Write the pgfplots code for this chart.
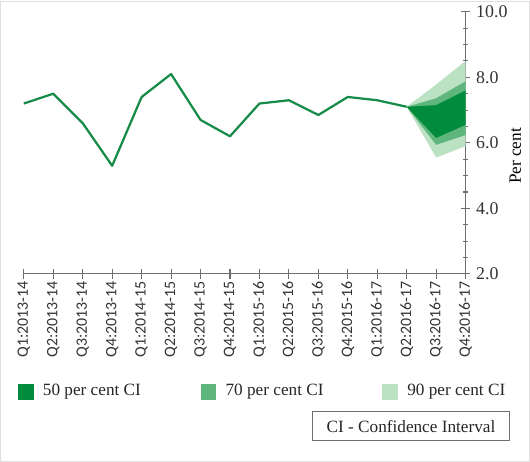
\documentclass[border=0pt]{standalone}
\usepackage{fontspec}
\setmainfont{Liberation Serif}
\newfontfamily\carlito{Carlito}
\usepackage{pgfplots}
\pgfplotsset{compat=1.18}
\definecolor{lineg}{RGB}{22,140,72}
\definecolor{ciA}{RGB}{0,140,60}
\definecolor{ciB}{RGB}{95,182,125}
\definecolor{ciC}{RGB}{188,226,196}
\definecolor{axg}{RGB}{110,110,110}
\begin{document}
\begin{tikzpicture}
\fontsize{13}{15}\selectfont
\draw[gray!25, line width=0.8pt] (-17.6pt,-141.4pt) rectangle (382pt,206pt);
\begin{axis}[
  scale only axis, width=333.75pt, height=198pt,
  xmin=0, xmax=15, ymin=2, ymax=10,
  axis x line=bottom, axis y line=right,
  axis line style={axg, line width=0.8pt, -},
  every tick/.style={axg, line width=0.8pt},
  tick align=center, major tick length=7pt, minor tick length=3.5pt,
  xtick={0,...,15},
  xticklabels={Q1:2013-14,Q2:2013-14,Q3:2013-14,Q4:2013-14,Q1:2014-15,Q2:2014-15,Q3:2014-15,Q4:2014-15,Q1:2015-16,Q2:2015-16,Q3:2015-16,Q4:2015-16,Q1:2016-17,Q2:2016-17,Q3:2016-17,Q4:2016-17},
  x tick label style={rotate=90, anchor=east, font=\carlito\fontsize{12}{14}\selectfont, text=black!80, inner sep=2pt},
  ytick={2,4,6,8,10},
  minor y tick num=3,
  y tick label style={font=\fontsize{13.5}{15}\selectfont, text=black!80, /pgf/number format/fixed, /pgf/number format/fixed zerofill, /pgf/number format/precision=1},
  /pgf/number format/assume math mode=true,
  ylabel={Per cent},
  ylabel style={font=\fontsize{13}{15}\selectfont, text=black!80},
  every axis y label/.style={at={(rel axis cs:1,0.45)}, xshift=37.5pt, rotate=90, anchor=center},
  clip=false,
]
\addplot[fill=ciC, draw=none] coordinates {(13,7.1) (14,7.78) (15,8.5) (15,5.9) (14,5.55) (13,7.1)};
\addplot[fill=ciB, draw=none] coordinates {(13,7.1) (14,7.36) (15,7.88) (15,6.24) (14,5.94) (13,7.1)};
\addplot[fill=ciA, draw=none] coordinates {(13,7.1) (14,7.15) (15,7.6) (15,6.55) (14,6.15) (13,7.1)};
\addplot[lineg, line width=1.7pt, line join=round] coordinates {
(0,7.2) (1,7.5) (2,6.6) (3,5.3) (4,7.4) (5,8.1) (6,6.7) (7,6.2) (8,7.2) (9,7.3) (10,6.85) (11,7.4) (12,7.3) (13,7.1)};
\end{axis}
\fill[ciA] (-4.5pt,-95.25pt) rectangle (7.5pt,-83.25pt);
\node[anchor=west, inner sep=0pt, text=black!85] at (14.25pt,-89.25pt) {50 per cent CI};
\fill[ciB] (133.5pt,-95.25pt) rectangle (145.5pt,-83.25pt);
\node[anchor=west, inner sep=0pt, text=black!85] at (152.25pt,-89.25pt) {70 per cent CI};
\fill[ciC] (270.75pt,-95.25pt) rectangle (282.75pt,-83.25pt);
\node[anchor=west, inner sep=0pt, text=black!85] at (289.5pt,-89.25pt) {90 per cent CI};
\node[draw=axg, line width=0.8pt, text=black!85, minimum width=148.5pt, minimum height=21.5pt, inner sep=3pt] at (292.5pt,-115pt) {CI - Confidence Interval};
\end{tikzpicture}
\end{document}
